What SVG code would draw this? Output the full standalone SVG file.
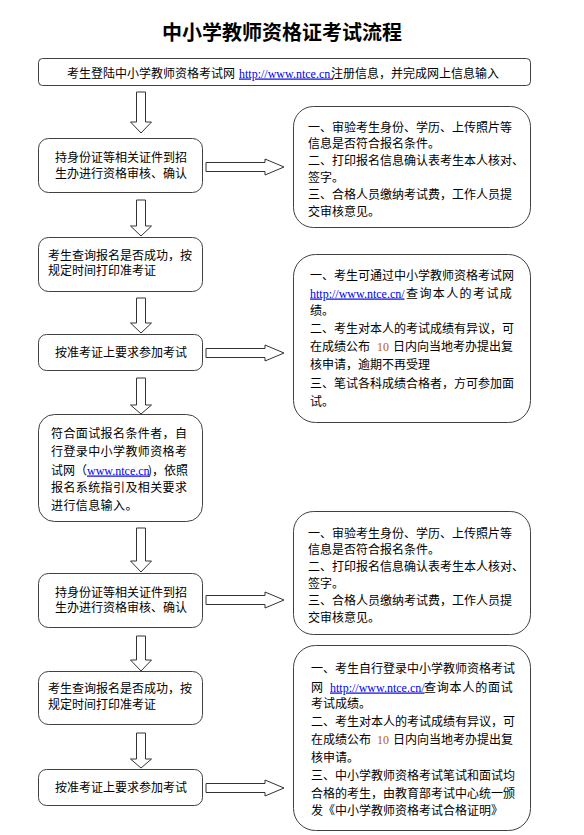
<svg xmlns="http://www.w3.org/2000/svg" width="584" height="835" viewBox="0 0 584 835">
<defs>
<style>
.t{font-family:"Noto Sans CJK SC","Liberation Sans",sans-serif;font-size:12px;fill:#000}
.c{text-anchor:middle}
.u{font-family:"Liberation Serif","Noto Sans CJK SC",serif;fill:#0000ee;text-decoration:underline}
.n{font-family:"Liberation Serif",serif;fill:#c06000}
.box{fill:#fff;stroke:#404040;stroke-width:1}
.arr{fill:#fff;stroke:#333;stroke-width:1}
.title{font-family:"Noto Sans CJK SC","Liberation Sans",sans-serif;font-size:20px;font-weight:bold;text-anchor:middle;fill:#000}
</style>
<polygon id="dn" points="-4.5,0 4.5,0 4.5,-10 10.5,-10 0,0 -10.5,-10 -4.5,-10" />
</defs>
<rect width="584" height="835" fill="#fff"/>
<text class="title" x="282" y="40">中小学教师资格证考试流程</text>

<g id="connectors">
<polygon class="arr" points="136.5,92 145.5,92 145.5,122 151.5,122 141,133 130.5,122 136.5,122"/>
<polygon class="arr" points="136.5,200 145.5,200 145.5,226 151.5,226 141,236 130.5,226 136.5,226"/>
<polygon class="arr" points="136.5,298 145.5,298 145.5,323 151.5,323 141,333 130.5,323 136.5,323"/>
<polygon class="arr" points="136.5,378 145.5,378 145.5,405 151.5,405 141,414 130.5,405 136.5,405"/>
<polygon class="arr" points="136.5,528 145.5,528 145.5,561 151.5,561 141,572 130.5,561 136.5,561"/>
<polygon class="arr" points="136.5,636 145.5,636 145.5,660 151.5,660 141,671 130.5,660 136.5,660"/>
<polygon class="arr" points="136.5,733 145.5,733 145.5,759 151.5,759 141,768 130.5,759 136.5,759"/>
<polygon class="arr" points="206,162.5 265,162.5 265,159 284,167 265,175 265,171.5 206,171.5"/>
<polygon class="arr" points="206,348.5 265,348.5 265,345 284,353 265,361 265,357.5 206,357.5"/>
<polygon class="arr" points="206,595.5 265,595.5 265,592 284,600 265,608 265,604.5 206,604.5"/>
<polygon class="arr" points="206,783.5 265,783.5 265,780 284,788 265,796 265,792.5 206,792.5"/>
</g>

<g id="n-top">
<rect class="box" x="38.5" y="58.5" width="492" height="27" rx="4"/>
<text class="t" y="77.5"><tspan x="67">考生登陆中小学教师资格考试网</tspan><tspan class="u" x="239">http://www.ntce.cn </tspan><tspan x="331">注册信息，并完成网上信息输入</tspan></text>
</g>

<g id="n-check1">
<rect class="box" x="38.5" y="138.5" width="164" height="54" rx="10"/>
<text class="t c" x="121" y="161.5">持身份证等相关证件到招</text>
<text class="t c" x="121" y="177.5">生办进行资格审核、确认</text>
</g>

<g id="n-note1">
<rect class="box" x="293.5" y="106.5" width="237" height="121" rx="20"/>
<text class="t" x="308" y="131.5">一、审验考生身份、学历、上传照片等</text>
<text class="t" x="308" y="148.3">信息是否符合报名条件。</text>
<text class="t" x="308" y="165.1">二、打印报名信息确认表考生本人核对、</text>
<text class="t" x="308" y="181.9">签字。</text>
<text class="t" x="308" y="198.7">三、合格人员缴纳考试费，工作人员提</text>
<text class="t" x="308" y="215.5">交审核意见。</text>
</g>

<g id="n-query1">
<rect class="box" x="38.5" y="237.5" width="164" height="54" rx="10"/>
<text class="t" x="48" y="259.5">考生查询报名是否成功，按</text>
<text class="t" x="48" y="275">规定时间打印准考证</text>
</g>

<g id="n-exam1">
<rect class="box" x="38.5" y="334.5" width="164" height="36" rx="8"/>
<text class="t c" x="121" y="357">按准考证上要求参加考试</text>
</g>

<g id="n-note2">
<rect class="box" x="293.5" y="254.5" width="237" height="168" rx="22"/>
<text class="t" x="310" y="279.5">一、考生可通过中小学教师资格考试网</text>
<text class="t" y="297.5"><tspan class="u" x="310">http://www.ntce.cn/</tspan><tspan x="406" letter-spacing="1.4">查询本人的考试成</tspan></text>
<text class="t" x="310" y="314.5">绩。</text>
<text class="t" x="310" y="332.5">二、考生对本人的考试成绩有异议，可</text>
<text class="t" y="351"><tspan x="310">在成绩公布</tspan><tspan class="n" x="377">10</tspan><tspan x="393">日内向当地考办提出复</tspan></text>
<text class="t" x="310" y="369">核申请，逾期不再受理</text>
<text class="t" x="310" y="387.5">三、笔试各科成绩合格者，方可参加面</text>
<text class="t" x="310" y="406">试。</text>
</g>

<g id="n-apply">
<rect class="box" x="38.5" y="414.5" width="164" height="107" rx="16"/>
<text class="t" x="51" y="437.5" letter-spacing="0.4">符合面试报名条件者，自</text>
<text class="t" x="51" y="456" letter-spacing="0.4">行登录中小学教师资格考</text>
<text class="t" y="474.5"><tspan x="51">试网（</tspan><tspan class="u" x="87">www.ntce.cn</tspan><tspan x="148">)，依照</tspan></text>
<text class="t" x="51" y="491.5" letter-spacing="0.4">报名系统指引及相关要求</text>
<text class="t" x="51" y="509.5" letter-spacing="0.4">进行信息输入。</text>
</g>

<g id="n-check2">
<rect class="box" x="38.5" y="573.5" width="164" height="54" rx="10"/>
<text class="t c" x="121" y="596.5">持身份证等相关证件到招</text>
<text class="t c" x="121" y="612">生办进行资格审核、确认</text>
</g>

<g id="n-note3">
<rect class="box" x="293.5" y="511.5" width="237" height="123" rx="20"/>
<text class="t" x="308" y="537.5">一、审验考生身份、学历、上传照片等</text>
<text class="t" x="308" y="554.3">信息是否符合报名条件。</text>
<text class="t" x="308" y="571.1">二、打印报名信息确认表考生本人核对、</text>
<text class="t" x="308" y="587.9">签字。</text>
<text class="t" x="308" y="604.7">三、合格人员缴纳考试费，工作人员提</text>
<text class="t" x="308" y="621.5">交审核意见。</text>
</g>

<g id="n-query2">
<rect class="box" x="38.5" y="671.5" width="164" height="53" rx="10"/>
<text class="t" x="48" y="692.5">考生查询报名是否成功，按</text>
<text class="t" x="48" y="708.5">规定时间打印准考证</text>
</g>

<g id="n-exam2">
<rect class="box" x="38.5" y="769.5" width="164" height="36" rx="8"/>
<text class="t c" x="121" y="791.5">按准考证上要求参加考试</text>
</g>

<g id="n-note4">
<rect class="box" x="293.5" y="645.5" width="237" height="185" rx="22"/>
<text class="t" x="311" y="672.5">一、考生自行登录中小学教师资格考试</text>
<text class="t" y="691.5"><tspan x="311">网</tspan><tspan class="u" x="330">http://www.ntce.cn/</tspan><tspan x="424" letter-spacing="0.8">查询本人的面试</tspan></text>
<text class="t" x="311" y="707.5">考试成绩。</text>
<text class="t" x="311" y="725.5">二、考生对本人的考试成绩有异议，可</text>
<text class="t" y="743.5"><tspan x="311">在成绩公布</tspan><tspan class="n" x="377">10</tspan><tspan x="393">日内向当地考办提出复</tspan></text>
<text class="t" x="311" y="761.5">核申请。</text>
<text class="t" x="311" y="779.5">三、中小学教师资格考试笔试和面试均</text>
<text class="t" x="311" y="797.5">合格的考生，由教育部考试中心统一颁</text>
<text class="t" x="311" y="814.5">发《中小学教师资格考试合格证明》</text>
</g>
</svg>
